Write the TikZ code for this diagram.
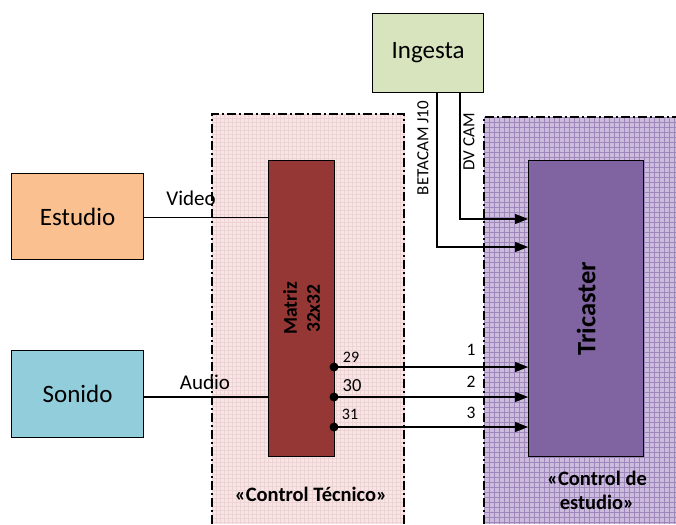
\documentclass[tikz,border=0pt]{standalone}
\usepackage{fontspec}
\setmainfont{Carlito}
\usetikzlibrary{positioning,arrows.meta}
\definecolor{estudiofill}{HTML}{FAC090}
\definecolor{sonidofill}{HTML}{92CDDC}
\definecolor{ingestafill}{HTML}{D7E4BD}
\definecolor{matrizfill}{HTML}{953735}
\definecolor{tricfill}{HTML}{8064A2}
\definecolor{ctfill}{HTML}{F8E6E6}
\definecolor{ctgrid}{HTML}{EDD3D3}
\definecolor{cefill}{HTML}{CDBCDD}
\definecolor{cegrid}{HTML}{9E88BB}

\begin{document}
\begin{tikzpicture}[x=1pt,y=-1pt,
box/.style={draw,line width=1.2pt,rectangle,anchor=north west,inner sep=0pt,
    font=\fontsize{25}{29}\selectfont},
zone/.style={line width=1.3pt,dash pattern=on 9pt off 3pt on 2pt off 3pt},
wire/.style={line width=1.2pt},
feed/.style={wire,-{Triangle[length=13pt,width=10pt]}},
port/.style={font=\fontsize{16}{19}\selectfont},
zonetitle/.style={font=\bfseries\fontsize{20.5}{24}\selectfont,align=center}]
\useasboundingbox (0,0) rectangle (676,524);

% zonas de control
\fill[ctfill] (212,114) rectangle (404,524);
\foreach \gx in {212,216,...,404} \draw[ctgrid,line width=.4pt] (\gx,114) -- (\gx,524);
\foreach \gy in {114,118,...,524} \draw[ctgrid,line width=.4pt] (212,\gy) -- (404,\gy);
\draw[zone] (212,524) -- (212,114) -- (404,114) -- (404,524);

\fill[cefill] (484,117) rectangle (676,524);
\foreach \gx in {484,489,...,676} \draw[cegrid,line width=.5pt] (\gx,117) -- (\gx,524);
\foreach \gy in {117,122,...,524} \draw[cegrid,line width=.5pt] (484,\gy) -- (676,\gy);
\draw[zone] (484,524) -- (484,117) -- (676,117);

% equipos
\node (estudio) [box,fill=estudiofill,minimum width=132pt,minimum height=86pt] at (11,173) {Estudio};
\node (sonido) [box,fill=sonidofill,minimum width=132pt,minimum height=87pt] at (11,350) {Sonido};
\node (ingesta) [box,fill=ingestafill,minimum width=111pt,minimum height=79pt] at (372,13) {Ingesta};
\node (matriz) [box,fill=matrizfill,minimum width=66pt,minimum height=296pt] at (268,160) {};
\node [rotate=90,align=center,font=\bfseries\fontsize{19.5}{23}\selectfont] at (matriz.center) {Matriz\\32x32};
\node (tric) [box,fill=tricfill,minimum width=115pt,minimum height=296pt] at (528,160) {};
\node [rotate=90,font=\bfseries\fontsize{26.5}{30}\selectfont] at (tric.center) {Tricaster};

% entradas a la matriz
\coordinate (video) at (143,217.5);
\draw[wire] (video) -- (video -| matriz.west);
\node [font=\fontsize{21}{24}\selectfont] at (191,198) {Video};
\coordinate (audio) at (143,397);
\draw[wire] (audio) -- (audio -| matriz.west);
\node [font=\fontsize{21}{24}\selectfont] at (205,382) {Audio};

% salidas 29-31
\coordinate (o29) at (334,367);
\coordinate (o30) at (334,397);
\coordinate (o31) at (334,427);
\foreach \o in {o29,o30,o31} {
  \fill (\o) circle (4.5pt);
  \draw[feed] (\o) -- (\o -| tric.west);
}
\node [port] at (351,357) {29};
\node [port,font=\fontsize{18.5}{22}\selectfont] at (352,386) {30};
\node [port] at (350,414) {31};
\node [port,font=\fontsize{17.5}{21}\selectfont] at (471,350) {1};
\node [port,font=\fontsize{17.5}{21}\selectfont] at (471,382) {2};
\node [port,font=\fontsize{17.5}{21}\selectfont] at (471,413) {3};

% ingesta
\coordinate (beta) at (437,92);
\coordinate (dv) at (460,92);
\draw[feed] (beta) |- (tric.west |- 0,247);
\draw[feed] (dv) |- (tric.west |- 0,219);
\node [port,font=\fontsize{17}{20}\selectfont,rotate=90] at (423,148) {BETACAM J10};
\node [port,font=\fontsize{17}{20}\selectfont,rotate=90] at (469,142) {DV CAM};

% titulos de zona
\node [zonetitle] at (311,494) {«Control Técnico»};
\node [zonetitle] at (597,490) {«Control de\\estudio»};
\end{tikzpicture}
\end{document}
